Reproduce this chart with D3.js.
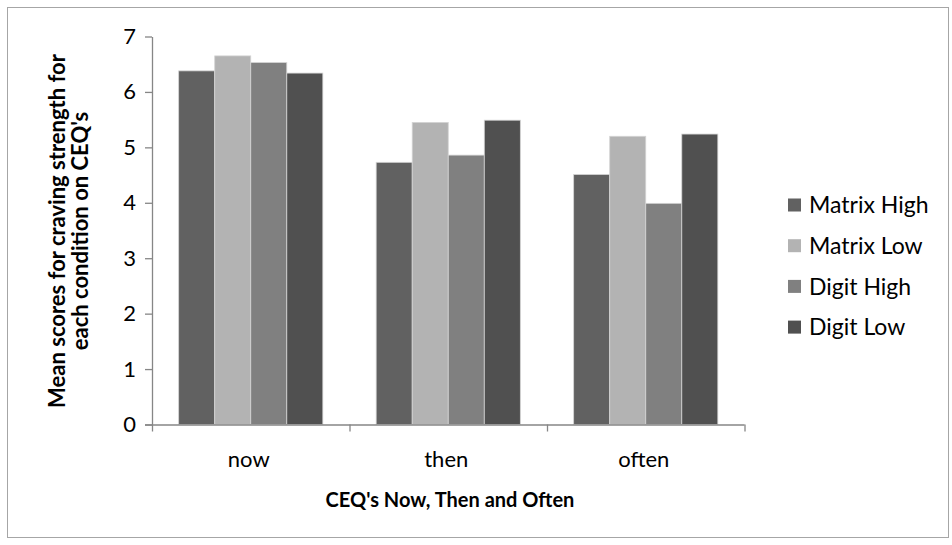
<!DOCTYPE html>
<html>
<head>
<meta charset="utf-8">
<script src="https://cdn.jsdelivr.net/npm/d3@7"></script>
<style>
  body { margin: 0; background: #fff; }
  text { font-family: Lato, "Open Sans", sans-serif; fill: #000; }
</style>
</head>
<body>
<svg id="chart" width="952" height="545"></svg>
<script>
// categories and series
var categories = ["now", "then", "often"];
var series = ["Matrix High", "Matrix Low", "Digit High", "Digit Low"];
var matrixHigh = [6.38, 4.73, 4.51];
var matrixLow = [6.65, 5.45, 5.20];
var digitHigh = [6.53, 4.86, 3.99];
var digitLow = [6.34, 5.49, 5.24];
var yTicks = [0, 1, 2, 3, 4, 5, 6, 7];
var colors = ["#616161", "#b3b3b3", "#808080", "#505050"];

var values = [matrixHigh, matrixLow, digitHigh, digitLow];
var data = categories.map(function (c, i) {
    return { cat: c, vals: series.map(function (s, j) { return { key: s, value: values[j][i] }; }) };
});

var svg = d3.select("#chart"),
    margin = { top: 36.5, right: 207.5, bottom: 120.5, left: 152 },
    width = +svg.attr("width") - margin.left - margin.right,
    height = +svg.attr("height") - margin.top - margin.bottom;

// outer chart border
svg.append("rect")
    .attr("x", 7.5).attr("y", 7.5)
    .attr("width", 941).attr("height", 530)
    .attr("fill", "none")
    .attr("stroke", "#a6a6a6");

var g = svg.append("g")
    .attr("transform", "translate(" + margin.left + "," + margin.top + ")");

var x0 = d3.scaleBand().domain(categories).range([0, width]).padding(0);
var x1 = d3.scaleBand().domain(series).range([0, x0.bandwidth()])
    .paddingInner(0).paddingOuter(0.74);
var y = d3.scaleLinear().domain([0, 7]).range([height, 0]);
var color = d3.scaleOrdinal().domain(series).range(colors);

// bars
g.selectAll(".group")
    .data(data)
    .enter().append("g")
    .attr("class", "group")
    .attr("transform", function (d) { return "translate(" + x0(d.cat) + ",0)"; })
    .selectAll("rect")
    .data(function (d) { return d.vals; })
    .enter().append("rect")
    .attr("x", function (d) { return x1(d.key); })
    .attr("y", function (d) { return y(d.value); })
    .attr("width", x1.bandwidth())
    .attr("height", function (d) { return height - y(d.value); })
    .attr("fill", function (d) { return color(d.key); })
    .attr("stroke", "#d4d4d4")
    .attr("stroke-width", 0.8);

// y axis
var yAxis = g.append("g")
    .call(d3.axisLeft(y).tickValues(yTicks).tickSize(7).tickPadding(9).tickFormat(d3.format("d")));
yAxis.selectAll("path, line").attr("stroke", "#868686").attr("stroke-width", 1.3);
yAxis.select(".domain").attr("d", "M0.5," + (height + 7) + "V0.5");
yAxis.selectAll("text").attr("font-size", 22).style("font-family", "Lato, sans-serif");

// x axis: ticks sit on category boundaries
var xAxis = g.append("g")
    .attr("transform", "translate(0," + height + ")");
xAxis.append("path")
    .attr("d", "M-7,0.5H" + width)
    .attr("stroke", "#868686").attr("stroke-width", 1.3);
xAxis.selectAll(".tick")
    .data(categories)
    .enter().append("line")
    .attr("x1", function (d) { return x0(d) + x0.bandwidth() + 0.5; })
    .attr("x2", function (d) { return x0(d) + x0.bandwidth() + 0.5; })
    .attr("y1", 0).attr("y2", 7)
    .attr("stroke", "#868686").attr("stroke-width", 1.3);
xAxis.selectAll(".label")
    .data(categories)
    .enter().append("text")
    .attr("x", function (d) { return x0(d) + x0.bandwidth() / 2 - 2; })
    .attr("y", 42)
    .attr("text-anchor", "middle")
    .attr("font-size", 22)
    .text(function (d) { return d; });

// axis titles
svg.append("text")
    .attr("x", 450).attr("y", 507)
    .attr("text-anchor", "middle")
    .attr("font-size", 20).attr("font-weight", "bold")
    .text("CEQ's Now, Then and Often");

var yTitle = svg.append("text")
    .attr("transform", "translate(65,231) rotate(-90)")
    .attr("text-anchor", "middle")
    .attr("font-size", 22).attr("font-weight", "bold");
yTitle.append("tspan").attr("x", 0).attr("dy", 0).text("Mean scores for craving strength for");
yTitle.append("tspan").attr("x", 0).attr("dy", 23).text("each condition on CEQ's");

// legend
var legend = svg.selectAll(".legend")
    .data(series)
    .enter().append("g")
    .attr("class", "legend")
    .attr("transform", function (d, i) { return "translate(788," + (205 + i * 40.7) + ")"; });
legend.append("rect")
    .attr("x", 0).attr("y", -6.5)
    .attr("width", 13).attr("height", 13)
    .attr("fill", function (d) { return color(d); });
legend.append("text")
    .attr("x", 21).attr("y", 0).attr("dy", "0.36em")
    .attr("font-size", 23)
    .text(function (d) { return d; });
</script>
</body>
</html>
